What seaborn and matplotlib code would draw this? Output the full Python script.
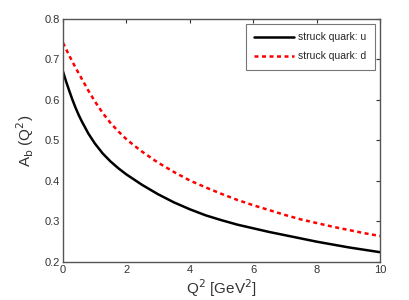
import matplotlib
matplotlib.use("Agg")
import matplotlib.pyplot as plt
import seaborn as sns
import pandas as pd

q2 = [0.0, 0.1, 0.2, 0.3, 0.4, 0.5, 0.6, 0.8, 1.0, 1.25, 1.5, 1.75, 2.0, 2.25, 2.5,
      3.0, 3.5, 4.0, 4.5, 5.0, 5.5, 6.0, 6.5, 7.0, 7.5, 8.0, 8.5, 9.0, 9.5, 10.0]
a_u = [0.670, 0.645, 0.622, 0.600, 0.580, 0.562, 0.546, 0.517, 0.493, 0.468, 0.448, 0.431, 0.416, 0.403, 0.390,
       0.367, 0.347, 0.330, 0.315, 0.303, 0.292, 0.283, 0.274, 0.266, 0.258, 0.250, 0.243, 0.236, 0.230, 0.224]
a_d = [0.741, 0.725, 0.709, 0.694, 0.679, 0.665, 0.651, 0.623, 0.597, 0.568, 0.543, 0.522, 0.503, 0.487, 0.472,
       0.445, 0.422, 0.401, 0.384, 0.368, 0.353, 0.340, 0.328, 0.316, 0.305, 0.296, 0.287, 0.279, 0.271, 0.264]
labels = ["struck quark: u", "struck quark: d"]
xticks = [0, 2, 4, 6, 8, 10]
yticks = [0.2, 0.3, 0.4, 0.5, 0.6, 0.7, 0.8]

sns.set_theme(style="white")
plt.rcParams['font.family'] = ['Liberation Sans', 'DejaVu Sans']

df_u = pd.DataFrame({"Q2": q2, "A": a_u})
df_d = pd.DataFrame({"Q2": q2, "A": a_d})

fig = plt.figure(figsize=(4.09, 3.0), dpi=100)
ax = fig.add_axes([0.154, 0.127, 0.775, 0.81])

sns.lineplot(data=df_u, x="Q2", y="A", ax=ax, color="black", lw=1.8, label=labels[0])
sns.lineplot(data=df_d, x="Q2", y="A", ax=ax, color="red", lw=1.8, label=labels[1],
             linestyle=(0, (1.6, 1.4)))

ax.set_xlim(0, 10)
ax.set_ylim(0.2, 0.8)
ax.set_xticks(xticks)
ax.set_xticklabels([str(t) for t in xticks])
ax.set_yticks(yticks)
ax.set_yticklabels([f"{t:.1f}" for t in yticks])
ax.tick_params(direction="in", top=True, right=True, length=3, width=0.8,
               labelsize=8, colors="#333333", pad=2)
for s in ax.spines.values():
    s.set_color("#555555")
    s.set_linewidth(1.0)

ax.set_xlabel("Q$^2$ [GeV$^2$]", fontsize=11, color="#333333", labelpad=2)
ax.set_ylabel("A$_\\mathrm{b}$ (Q$^2$)", fontsize=11, color="#333333", labelpad=6)

leg = ax.legend(loc="upper right", fontsize=7.5, frameon=True, fancybox=False,
                edgecolor="#555555", handlelength=3.8, borderpad=0.8,
                labelspacing=0.85, handletextpad=0.4, borderaxespad=0.5)
leg.get_frame().set_linewidth(0.8)

fig.savefig("out.png", dpi=100)
